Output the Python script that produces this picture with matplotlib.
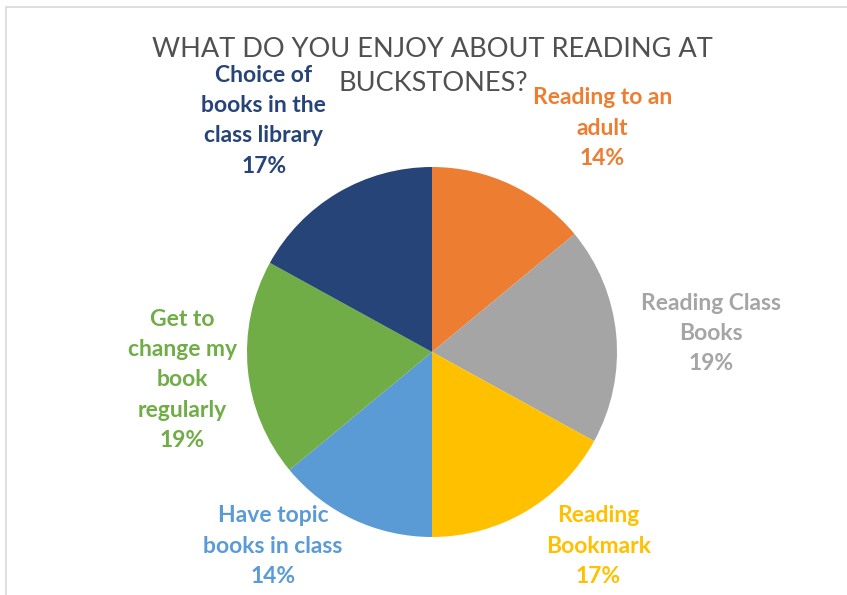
import matplotlib.pyplot as plt
from matplotlib.patches import Rectangle

categories = ['Reading to an\nadult', 'Reading Class\nBooks', 'Reading\nBookmark',
              'Have topic\nbooks in class', 'Get to\nchange my\nbook\nregularly',
              'Choice of\nbooks in the\nclass library']
shares = [14, 19, 17, 14, 19, 17]
colors = ['#ED7D31', '#A5A5A5', '#FFC000', '#5B9BD5', '#70AD47', '#264478']

# label centres in pie-radius units (best-fit placement as in the original)
label_pos = [(0.92, 1.21), (1.51, 0.10), (0.90, -1.05),
             (-0.86, -1.05), (-1.35, -0.15), (-0.91, 1.25)]

plt.rcParams['font.family'] = ['Lato', 'DejaVu Sans']

fig = plt.figure(figsize=(8.47, 5.95), dpi=100)
ax = fig.add_axes([0, 0, 1, 1])

ax.pie(shares, colors=colors, startangle=90, counterclock=False,
       radius=1.0, center=(0, 0), wedgeprops=dict(linewidth=0))
ax.set_xlim(-432 / 185, (847 - 432) / 185)
ax.set_ylim(-(595 - 352) / 185, 352 / 185)
ax.set_aspect('auto')
ax.axis('off')

for name, val, col, (lx, ly) in zip(categories, shares, colors, label_pos):
    ax.text(lx, ly, f'{name}\n{val}%', color=col, ha='center', va='center',
            fontsize=16.5, fontweight='bold', linespacing=1.55)

fig.text(0.511, 0.889, 'WHAT DO YOU ENJOY ABOUT READING AT\nBUCKSTONES?',
         ha='center', va='center', fontsize=19.5, color='#505050', linespacing=1.45)

fig.patches.append(Rectangle((6 / 847, -0.1), 1.2, 1 - 7 / 595 + 0.1,
                             transform=fig.transFigure, fill=False,
                             edgecolor='#D9D9D9', linewidth=1.2))

fig.savefig('out.png', dpi=100)
